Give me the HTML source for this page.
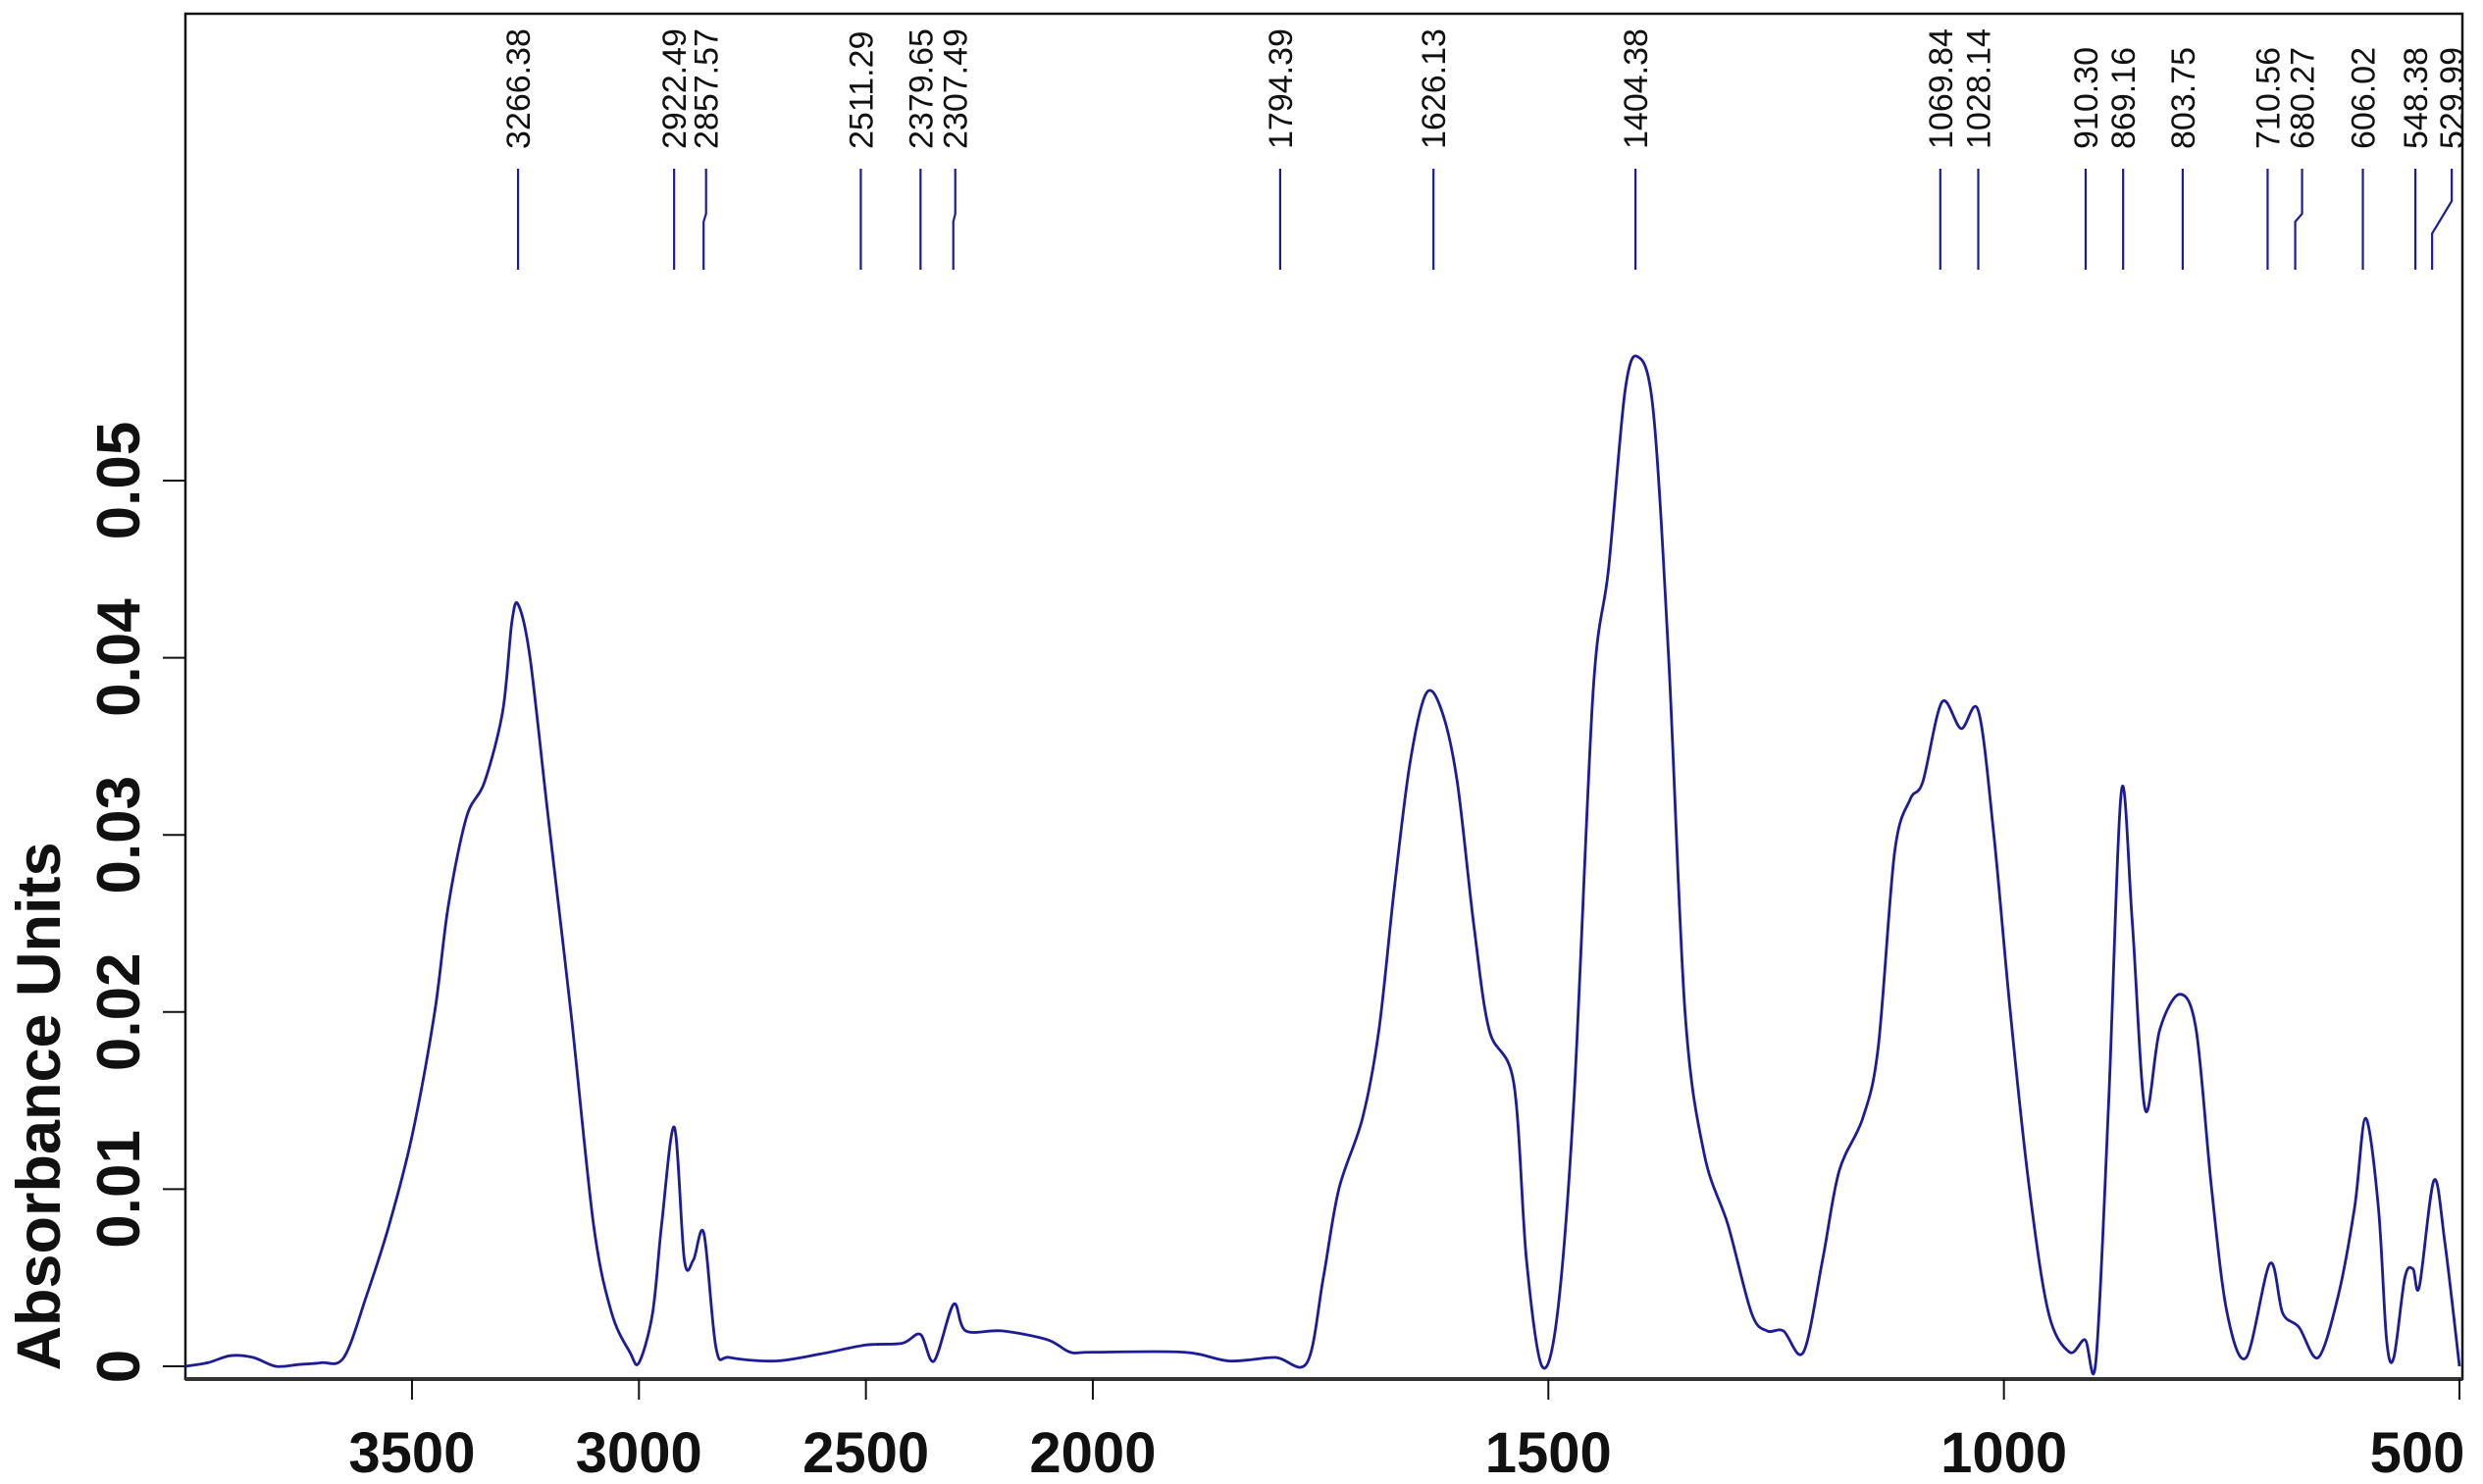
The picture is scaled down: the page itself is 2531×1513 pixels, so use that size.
<!DOCTYPE html>
<html><head><meta charset="utf-8"><style>
html,body{margin:0;padding:0;background:#fff}
svg{display:block}
text{font-family:"Liberation Sans",sans-serif}
</style></head><body>
<svg id="chart" width="2531" height="1513" viewBox="0 0 2531 1513" xmlns="http://www.w3.org/2000/svg">
<rect x="189" y="14" width="2321" height="1392" fill="none" stroke="#111" stroke-width="2.5"/>
<line x1="189" y1="1406" x2="2510" y2="1406" stroke="#333" stroke-width="4"/>
<g id="xaxis"></g>
<g id="yaxis"></g>
<text transform="translate(61,1128) rotate(-90)" text-anchor="middle" font-size="63" font-weight="bold" fill="#111">Absorbance Units</text>
<g id="peaks"></g>
<path id="spectrum" fill="none" stroke="#1c1c96" stroke-width="2.8" stroke-linejoin="round"/>
</svg>
<script>
const xTicks=[3500,3000,2500,2000,1500,1000,500];
const yTicks=[0,0.01,0.02,0.03,0.04,0.05];
const yTickLabels=["0","0.01","0.02","0.03","0.04","0.05"];
const peakValues=[3266.38,2922.49,2857.57,2511.29,2379.65,2307.49,1794.39,1626.13,1404.38,1069.84,1028.14,910.30,869.16,803.75,710.56,680.27,606.02,548.38,529.99];
const peakLabels=["3266.38","2922.49","2857.57","2511.29","2379.65","2307.49","1794.39","1626.13","1404.38","1069.84","1028.14","910.30","869.16","803.75","710.56","680.27","606.02","548.38","529.99"];
const wavenumbers=[4000,3950,3900,3850,3800,3750,3700,3650,3600,3550,3500,3450,3420,3380,3340,3300,3280,3266,3240,3200,3150,3100,3060,3020,3000,2970,2950,2922,2900,2880,2857,2830,2800,2700,2600,2500,2420,2380,2350,2307,2280,2200,2100,2050,2000,1900,1850,1800,1765,1747,1730,1704,1686,1669,1652,1634,1617,1600,1582,1565,1538,1524,1507,1490,1472,1451,1434,1416,1402,1385,1368,1350,1329,1303,1277,1260,1242,1220,1199,1181,1155,1138,1120,1103,1089,1068,1047,1028,1011,993,972,951,928,911,899,885,871,859,845,829,807,789,772,755,734,708,694,676,655,633,615,603,589,580,572,560,551,544,528,516,500];
const absorbance=[0,0.0002,0.0006,0.0005,0,0.0001,0.0002,0.0005,0.004,0.008,0.013,0.02,0.026,0.031,0.033,0.037,0.042,0.043,0.040,0.031,0.020,0.008,0.003,0.0008,0.0002,0.003,0.008,0.0135,0.006,0.006,0.0075,0.001,0.0005,0.0003,0.0007,0.0012,0.0013,0.0018,0.0003,0.0035,0.002,0.002,0.0015,0.0008,0.0008,0.0008,0.0003,0.0005,0.0002,0.005,0.01,0.014,0.019,0.027,0.034,0.038,0.037,0.033,0.025,0.019,0.016,0.006,0,0.003,0.015,0.038,0.045,0.055,0.057,0.054,0.040,0.020,0.012,0.008,0.003,0.002,0.002,0.0008,0.006,0.011,0.014,0.018,0.029,0.032,0.033,0.0375,0.036,0.037,0.030,0.020,0.010,0.003,0.0008,0.0015,0.0003,0.015,0.0325,0.025,0.0145,0.019,0.021,0.019,0.010,0.003,0.0005,0.0058,0.003,0.0022,0.0005,0.004,0.009,0.014,0.009,0.0015,0.0005,0.005,0.0055,0.0045,0.0105,0.007,0];
const NS="http://www.w3.org/2000/svg";
function xScale(w){ return w<=2000 ? 2507-(w-500)*0.9287 : 1114-(w-2000)*0.4627; }
function yScale(a){ return 1393-a*18060; }
function mk(tag,attrs,parent){const e=document.createElementNS(NS,tag);for(const k in attrs)e.setAttribute(k,attrs[k]);parent.appendChild(e);return e;}
const xa=document.getElementById('xaxis');
xTicks.forEach(t=>{
  const x=xScale(t);
  const l=mk('line',{x1:x,y1:1406,x2:x,y2:1427,stroke:'#111','stroke-width':2},xa);
  
  
  const lx=Math.min(x,2464);
  const tx=mk('text',{x:lx,y:1501,'text-anchor':'middle','font-size':58,'font-weight':'bold',fill:'#111'},xa);
  tx.textContent=String(t);
  
  
});
const ya=document.getElementById('yaxis');
yTicks.forEach((t,i)=>{
  const y=yScale(t);
  const l=mk('line',{x1:166,y1:y,x2:189,y2:y,stroke:'#111','stroke-width':2},ya);
  
  
  const tx=mk('text',{transform:`translate(142,${y}) rotate(-90)`,'text-anchor':'middle','font-size':62,'font-weight':'bold',fill:'#111'},ya);
  tx.textContent=yTickLabels[i];
  
  
});
const pk=document.getElementById('peaks');
const shifted={"2857.57":2.5,"2307.49":2,"680.27":7,"529.99":20};
peakValues.forEach((p,i)=>{
  const x=xScale(p);
  const top=x+(shifted[peakLabels[i]]||0);
  let d;
  if(peakLabels[i]==="529.99") d=`M${top},172 L${top},205 L${x},238 L${x},275`;
  else if(top!==x) d=`M${top},172 L${top},218 L${x},226 L${x},275`;
  else d=`M${x},172 L${x},275`;
  const l=mk('path',{d:d,fill:'none',stroke:'#1c1c96','stroke-width':2.2},pk);
  
  
  const tx=mk('text',{transform:`translate(${top+12},152) rotate(-90)`,'font-size':34,fill:'#111'},pk);
  tx.textContent=peakLabels[i];
  
  
});
const pts=wavenumbers.map((w,i)=>[xScale(w),yScale(absorbance[i])]);
let d='M'+pts[0][0].toFixed(1)+','+pts[0][1].toFixed(1);
const k=0.16;
for(let i=0;i<pts.length-1;i++){
  const p0=pts[Math.max(0,i-1)],p1=pts[i],p2=pts[i+1],p3=pts[Math.min(pts.length-1,i+2)];
  const c1=[p1[0]+(p2[0]-p0[0])*k,p1[1]+(p2[1]-p0[1])*k];
  const c2=[p2[0]-(p3[0]-p1[0])*k,p2[1]-(p3[1]-p1[1])*k];
  d+=`C${c1[0].toFixed(1)},${c1[1].toFixed(1)} ${c2[0].toFixed(1)},${c2[1].toFixed(1)} ${p2[0].toFixed(1)},${p2[1].toFixed(1)}`;
}
document.getElementById('spectrum').setAttribute('d',d);
</script>
</body></html>
